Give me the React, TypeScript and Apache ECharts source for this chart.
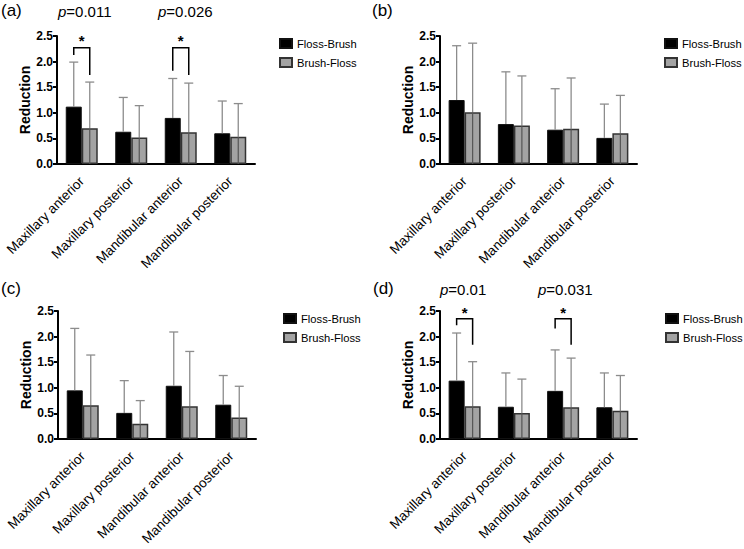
import React, { useEffect, useRef } from "react";
import * as echarts from "echarts";

const categories = ["Maxillary anterior", "Maxillary posterior", "Mandibular anterior", "Mandibular posterior"];

// panel (a)
const aFlossBrush = [1.12, 0.63, 0.9, 0.6];
const aFlossBrushSD = [0.87, 0.67, 0.77, 0.63];
const aBrushFloss = [0.7, 0.52, 0.62, 0.53];
const aBrushFlossSD = [0.9, 0.62, 0.96, 0.65];
// panel (b)
const bFlossBrush = [1.25, 0.78, 0.67, 0.51];
const bFlossBrushSD = [1.06, 1.02, 0.8, 0.66];
const bBrushFloss = [1.01, 0.75, 0.69, 0.6];
const bBrushFlossSD = [1.35, 0.97, 0.99, 0.74];
// panel (c)
const cFlossBrush = [0.95, 0.51, 1.04, 0.67];
const cFlossBrushSD = [1.21, 0.63, 1.05, 0.57];
const cBrushFloss = [0.66, 0.3, 0.64, 0.42];
const cBrushFlossSD = [0.98, 0.45, 1.07, 0.61];
// panel (d)
const dFlossBrush = [1.14, 0.63, 0.94, 0.62];
const dFlossBrushSD = [0.93, 0.66, 0.8, 0.67];
const dBrushFloss = [0.64, 0.51, 0.62, 0.55];
const dBrushFlossSD = [0.87, 0.66, 0.96, 0.69];

// significance brackets: [category, bracket top, left leg end, right leg end, star level]
const aBrackets = [
  [0, 2.27, 2.13, 1.74, 2.41],
  [2, 2.27, 1.82, 1.74, 2.41],
];
const dBrackets = [
  [0, 2.35, 2.22, 1.84, 2.48],
  [2, 2.35, 2.16, 1.84, 2.48],
];
const aPValues = ["0.011", "0.026"];
const dPValues = ["0.01", "0.031"];

const FONT = "Liberation Sans, Arial, sans-serif";
const BAR_W = 16;

const panels = [
  { label: "(a)", fb: aFlossBrush, fbsd: aFlossBrushSD, bf: aBrushFloss, bfsd: aBrushFlossSD, brackets: aBrackets, p: aPValues, grid: { left: 57, top: 36, width: 198, height: 128 }, legend: { left: 279, top: 38 }, lab: { x: 1, y: 2 }, px: [58, 158], py: 2 },
  { label: "(b)", fb: bFlossBrush, fbsd: bFlossBrushSD, bf: bBrushFloss, bfsd: bBrushFlossSD, brackets: [], p: [], grid: { left: 440, top: 36, width: 197, height: 128 }, legend: { left: 664, top: 38 }, lab: { x: 372, y: 2 }, px: [], py: 2 },
  { label: "(c)", fb: cFlossBrush, fbsd: cFlossBrushSD, bf: cBrushFloss, bfsd: cBrushFlossSD, brackets: [], p: [], grid: { left: 58, top: 311, width: 198, height: 128 }, legend: { left: 283, top: 313 }, lab: { x: 1, y: 280 }, px: [], py: 280 },
  { label: "(d)", fb: dFlossBrush, fbsd: dFlossBrushSD, bf: dBrushFloss, bfsd: dBrushFlossSD, brackets: dBrackets, p: dPValues, grid: { left: 440, top: 311, width: 197, height: 128 }, legend: { left: 665, top: 313 }, lab: { x: 373, y: 280 }, px: [440, 538], py: 280 },
];

function errorRender(offset: number, fromZero: boolean) {
  return (params: any, api: any) => {
    const cat = api.value(0);
    const mean = api.value(1);
    const sd = api.value(2);
    const base = api.coord([cat, 0]);
    const pm = api.coord([cat, mean]);
    const pt = api.coord([cat, mean + sd]);
    const x = base[0] + offset;
    const children: any[] = [
      { type: "line", shape: { x1: x, y1: pm[1], x2: x, y2: pt[1] }, style: { stroke: "#8c8c8c", lineWidth: 1.3 } },
      { type: "line", shape: { x1: x - 4.5, y1: pt[1], x2: x + 4.5, y2: pt[1] }, style: { stroke: "#8c8c8c", lineWidth: 1.3 } },
    ];
    if (fromZero) {
      children.push({ type: "line", shape: { x1: x, y1: base[1], x2: x, y2: pm[1] }, style: { stroke: "#555", lineWidth: 1.2 } });
    }
    return { type: "group", children };
  };
}

function bracketRender(params: any, api: any) {
  const cat = api.value(0);
  const top = api.coord([cat, api.value(1)]);
  const l = api.coord([cat, api.value(2)]);
  const r = api.coord([cat, api.value(3)]);
  const s = api.coord([cat, api.value(4)]);
  const xl = top[0] - BAR_W / 2;
  const xr = top[0] + BAR_W / 2;
  return {
    type: "group",
    children: [
      { type: "polyline", shape: { points: [[xl, l[1]], [xl, top[1]], [xr, top[1]], [xr, r[1]]] }, style: { stroke: "#000", lineWidth: 1.5, fill: null } },
      { type: "text", x: top[0], y: s[1], style: { text: "*", fontSize: 15, fontWeight: "bold", fontFamily: FONT, fill: "#000", align: "center", verticalAlign: "middle" } },
    ],
  };
}

export default function App() {
  const ref = useRef<HTMLDivElement>(null);
  useEffect(() => {
    document.body.style.margin = "0";
    const chart = echarts.init(ref.current!, null, { renderer: "svg" });
    const grid: any[] = [];
    const xAxis: any[] = [];
    const yAxis: any[] = [];
    const legend: any[] = [];
    const series: any[] = [];
    const graphic: any[] = [];
    panels.forEach((p, i) => {
      grid.push({ ...p.grid, containLabel: false });
      xAxis.push({
        type: "category", gridIndex: i, data: categories,
        axisLine: { lineStyle: { color: "#000", width: 2 } },
        axisTick: { alignWithLabel: true, length: 4, lineStyle: { color: "#000", width: 2 } },
        axisLabel: { rotate: 45, fontSize: 13.5, color: "#000", fontFamily: FONT, margin: 15, interval: 0 },
      });
      yAxis.push({
        type: "value", gridIndex: i, min: 0, max: 2.5, interval: 0.5,
        name: "Reduction", nameLocation: "middle", nameGap: 23, nameRotate: 90,
        nameTextStyle: { fontSize: 14, fontWeight: "bold", color: "#000", fontFamily: FONT },
        axisLine: { show: true, lineStyle: { color: "#000", width: 2 } },
        axisTick: { show: true, length: 4, lineStyle: { color: "#000", width: 2 } },
        splitLine: { show: false },
        axisLabel: { fontSize: 12, fontWeight: "bold", color: "#000", fontFamily: FONT, margin: 4, formatter: (v: number) => v.toFixed(1) },
      });
      legend.push({
        orient: "vertical", left: p.legend.left, top: p.legend.top, padding: 0, itemWidth: 12, itemHeight: 9, itemGap: 8,
        icon: "rect", textStyle: { fontSize: 11.2, color: "#000", fontFamily: FONT },
        data: ["Floss-Brush", "Brush-Floss"], selectedMode: false,
      });
      series.push({
        type: "bar", name: "Floss-Brush", xAxisIndex: i, yAxisIndex: i, data: p.fb, barWidth: BAR_W, barGap: "0%",
        itemStyle: { color: "#000", borderColor: "#111", borderWidth: 1 }, z: 2,
      });
      series.push({
        type: "bar", name: "Brush-Floss", xAxisIndex: i, yAxisIndex: i, data: p.bf, barWidth: BAR_W, barGap: "0%",
        itemStyle: { color: "#a3a3a3", borderColor: "#333", borderWidth: 1.5 }, z: 2,
      });
      series.push({
        type: "custom", xAxisIndex: i, yAxisIndex: i, z: 3, silent: true,
        data: p.fb.map((v, k) => [k, v, p.fbsd[k]]), renderItem: errorRender(-BAR_W / 2, false),
      });
      series.push({
        type: "custom", xAxisIndex: i, yAxisIndex: i, z: 3, silent: true,
        data: p.bf.map((v, k) => [k, v, p.bfsd[k]]), renderItem: errorRender(BAR_W / 2, true),
      });
      if (p.brackets.length) {
        series.push({
          type: "custom", xAxisIndex: i, yAxisIndex: i, z: 4, silent: true, clip: false,
          data: p.brackets, renderItem: bracketRender,
        });
      }
      graphic.push({ type: "text", left: p.lab.x, top: p.lab.y, style: { text: p.label, fontSize: 17, fontFamily: FONT, fill: "#000" } });
      p.p.forEach((pv, k) => {
        graphic.push({
          type: "text", left: p.px[k], top: p.py + 2,
          style: { text: "{i|p}=" + pv, fontSize: 15, fontFamily: FONT, fill: "#000", rich: { i: { fontStyle: "italic", fontSize: 15, fontFamily: FONT, fill: "#000" } } },
        });
      });
    });
    chart.setOption({ animation: false, backgroundColor: "#fff", grid, xAxis, yAxis, legend, series, graphic });
    return () => chart.dispose();
  }, []);
  return <div ref={ref} style={{ width: 744, height: 549 }} />;
}
